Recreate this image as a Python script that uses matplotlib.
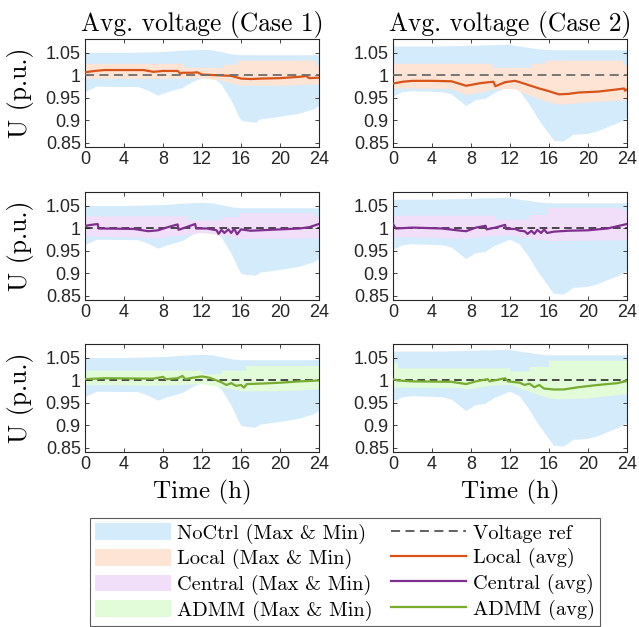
import matplotlib
matplotlib.use("Agg")
import matplotlib.pyplot as plt
from matplotlib.patches import Patch
from matplotlib.lines import Line2D

# ---------------- data ----------------
# NoCtrl band, Case 1
nc1_up_t = [0, 4, 8, 10, 12, 13, 14, 15, 16, 20, 24]
nc1_up = [1.050, 1.050, 1.052, 1.055, 1.057, 1.056, 1.052, 1.047, 1.045, 1.045, 1.045]
nc1_lo_t = [0, 0.5, 1.2, 5.5, 6.5, 7.5, 8.5, 10, 11, 12.5, 13, 14, 15, 16, 16.5, 17.5, 18, 20, 22, 23.5, 24]
nc1_lo = [0.962, 0.968, 0.975, 0.974, 0.966, 0.955, 0.963, 0.972, 0.985, 0.998, 0.997, 0.980, 0.945, 0.900,
          0.897, 0.895, 0.902, 0.908, 0.915, 0.925, 0.932]
# NoCtrl band, Case 2
nc2_up_t = [0, 4, 8, 12, 13, 15, 16, 24]
nc2_up = [1.064, 1.064, 1.066, 1.068, 1.064, 1.058, 1.056, 1.056]
nc2_lo_t = [0, 1, 2, 5, 6, 7.5, 8.5, 9.5, 10.5, 12, 13, 14, 15, 16, 16.5, 17.5, 18.5, 20, 21, 22, 23, 24]
nc2_lo = [0.952, 0.963, 0.965, 0.963, 0.958, 0.932, 0.945, 0.948, 0.962, 0.975, 0.965, 0.935, 0.900, 0.870,
          0.855, 0.853, 0.868, 0.870, 0.876, 0.885, 0.893, 0.905]

# Local band / average, Case 1
loc1_up_t = [0, 10.2, 10.2, 14.2, 14.2, 15.7, 15.7, 23.6, 23.6, 24]
loc1_up = [1.026, 1.026, 1.017, 1.017, 1.024, 1.024, 1.033, 1.033, 1.023, 1.023]
loc1_lo_t = [0, 7.5, 10, 12, 14, 16, 20, 24]
loc1_lo = [0.993, 0.992, 0.993, 0.994, 0.988, 0.977, 0.977, 0.980]
loc1_avg_t = [0, 1, 2, 4, 6, 7, 8, 9.5, 9.8, 10, 11, 11.5, 12, 13, 14, 15, 16, 17, 18, 20, 22, 22.5, 22.6, 23, 24]
loc1_avg = [1.007, 1.010, 1.012, 1.012, 1.012, 1.008, 1.010, 1.010, 1.004, 1.006, 1.006, 1.007, 1.002, 1.001,
            1.000, 0.999, 0.993, 0.992, 0.993, 0.994, 0.997, 0.998, 1.000, 0.994, 0.995]
# Local band / average, Case 2
loc2_up_t = [0, 10.2, 10.2, 14.2, 14.2, 15.7, 15.7, 23.6, 23.6, 24]
loc2_up = [1.026, 1.026, 1.017, 1.017, 1.026, 1.026, 1.033, 1.033, 1.023, 1.023]
loc2_lo_t = [0, 6, 7.5, 9, 10.5, 12.5, 14, 16, 17, 20, 24]
loc2_lo = [0.971, 0.970, 0.956, 0.962, 0.970, 0.970, 0.955, 0.940, 0.935, 0.940, 0.945]
loc2_avg_t = [0, 1, 2, 4, 6, 7.5, 9, 10.3, 10.5, 11.5, 12.5, 13, 14, 15, 16, 17, 18, 19, 21, 23, 23.7, 23.8, 24]
loc2_avg = [0.982, 0.986, 0.988, 0.988, 0.987, 0.977, 0.983, 0.986, 0.976, 0.985, 0.988, 0.985, 0.978, 0.971,
            0.965, 0.958, 0.959, 0.962, 0.964, 0.969, 0.971, 0.966, 0.969]

# Central band / average, Case 1
cen1_up_t = [0, 10.5, 10.5, 14, 14, 15.8, 15.8, 23.5, 23.5, 24]
cen1_up = [1.027, 1.027, 1.018, 1.018, 1.025, 1.025, 1.034, 1.034, 1.027, 1.027]
cen1_lo_t = [0, 7.5, 10, 12, 14, 16, 24]
cen1_lo = [0.983, 0.978, 0.985, 0.990, 0.985, 0.977, 0.978]
cen1_avg_t = [0, 0.3, 1.3, 1.4, 5, 6.5, 7.5, 8.5, 9.5, 9.6, 10, 11.3, 11.4, 12.5, 13.5, 13.7, 14, 14.3, 14.7,
              15, 15.3, 15.6, 16, 17, 18, 20, 22, 23, 24]
cen1_avg = [1.005, 1.007, 1.010, 1.000, 0.999, 0.994, 0.996, 1.003, 1.009, 0.997, 1.000, 1.010, 1.000, 1.000,
            0.996, 0.988, 0.997, 0.990, 0.998, 0.990, 1.000, 0.987, 0.998, 0.995, 0.996, 0.998, 1.000, 1.003, 1.010]
# Central band / average, Case 2
cen2_up_t = [0, 10.5, 10.5, 14, 14, 15.8, 15.8, 23.5, 23.5, 24]
cen2_up = [1.028, 1.028, 1.020, 1.020, 1.030, 1.030, 1.046, 1.046, 1.040, 1.040]
cen2_lo_t = [0, 7.5, 10, 12, 14, 16, 24]
cen2_lo = [0.981, 0.977, 0.983, 0.985, 0.978, 0.972, 0.974]
cen2_avg_t = [0, 0.3, 2, 5, 7, 7.5, 8.5, 9.5, 9.6, 10.5, 11.5, 11.6, 12.5, 13, 13.5, 13.8, 14.2, 14.5, 14.8,
              15.2, 15.5, 15.8, 16.5, 18, 20, 22, 24]
cen2_avg = [1.010, 1.000, 1.002, 1.000, 0.995, 0.994, 1.002, 1.006, 0.998, 1.002, 1.008, 0.999, 0.999, 0.995,
            0.994, 0.988, 0.995, 0.988, 0.997, 0.990, 0.998, 0.990, 0.993, 0.995, 0.996, 1.000, 1.010]

# ADMM band / average, Case 1
adm1_up_t = [0, 12, 12, 14, 14, 16.5, 16.5, 24]
adm1_up = [1.022, 1.022, 1.014, 1.014, 1.022, 1.022, 1.032, 1.032]
adm1_lo_t = [0, 7.5, 12, 14, 16, 20, 24]
adm1_lo = [0.990, 0.988, 0.992, 0.985, 0.976, 0.976, 0.980]
adm1_avg_t = [0, 1, 2, 7, 8, 8.3, 9.5, 10, 10.3, 11, 12, 12.8, 13.5, 14, 14.5, 15, 15.5, 16, 16.3, 16.6, 18, 20,
              22, 24]
adm1_avg = [1.003, 1.004, 1.005, 1.004, 1.008, 1.003, 1.005, 1.010, 1.003, 1.006, 1.009, 1.006, 1.000, 0.996,
            0.990, 0.994, 0.988, 0.990, 0.984, 0.992, 0.993, 0.995, 0.998, 1.000]
# ADMM band / average, Case 2
adm2_up_t = [0, 0.5, 0.5, 12, 12, 14, 14, 16, 16, 24]
adm2_up = [1.039, 1.039, 1.027, 1.027, 1.020, 1.020, 1.030, 1.030, 1.044, 1.044]
adm2_lo_t = [0, 7, 7.5, 10, 12, 14, 16, 17, 20, 24]
adm2_lo = [0.984, 0.983, 0.980, 0.988, 0.990, 0.975, 0.960, 0.958, 0.960, 0.970]
adm2_avg_t = [0, 0.5, 2, 6, 7.5, 8.5, 9.7, 9.9, 11.5, 11.8, 13, 13.5, 14, 14.5, 15, 15.5, 16.5, 17.5, 19, 21, 23,
              24]
adm2_avg = [1.003, 1.000, 0.998, 0.997, 0.992, 0.998, 1.003, 0.998, 1.005, 0.998, 0.995, 0.990, 0.993, 0.985,
            0.990, 0.982, 0.980, 0.980, 0.985, 0.990, 0.994, 0.999]

v_ref = 1.0
xticks = [0, 4, 8, 12, 16, 20, 24]
yticks = [0.85, 0.9, 0.95, 1.0, 1.05]
ytick_labels = ["0.85", "0.9", "0.95", "1", "1.05"]
titles = ["Avg. voltage (Case 1)", "Avg. voltage (Case 2)"]

# ---------------- style ----------------
C_NC = "#d4ebfb"
C_LOC_F = "#fde4d5"
C_CEN_F = "#f1dff9"
C_ADM_F = "#e2fbd8"
C_LOC = "#D95319"
C_CEN = "#7E2F8E"
C_ADM = "#77AC30"
SERIF = "cmr10"
SANS = "Liberation Sans"
AX_COL = "#262626"

fig = plt.figure(figsize=(6.39, 6.27), dpi=100)

lefts = [0.133, 0.615]
bottoms = [0.7656, 0.5215, 0.2791]
W, H = 0.3662, 0.1722

nc = [(nc1_up_t, nc1_up, nc1_lo_t, nc1_lo), (nc2_up_t, nc2_up, nc2_lo_t, nc2_lo)]
methods = [
    [(loc1_up_t, loc1_up, loc1_lo_t, loc1_lo, loc1_avg_t, loc1_avg),
     (loc2_up_t, loc2_up, loc2_lo_t, loc2_lo, loc2_avg_t, loc2_avg), C_LOC_F, C_LOC, "#6e6e6e"],
    [(cen1_up_t, cen1_up, cen1_lo_t, cen1_lo, cen1_avg_t, cen1_avg),
     (cen2_up_t, cen2_up, cen2_lo_t, cen2_lo, cen2_avg_t, cen2_avg), C_CEN_F, C_CEN, "#1a1a1a"],
    [(adm1_up_t, adm1_up, adm1_lo_t, adm1_lo, adm1_avg_t, adm1_avg),
     (adm2_up_t, adm2_up, adm2_lo_t, adm2_lo, adm2_avg_t, adm2_avg), C_ADM_F, C_ADM, "#1a1a1a"],
]


def band(ax, up_t, up, lo_t, lo, color):
    xs = list(up_t) + list(lo_t)[::-1]
    ys = list(up) + list(lo)[::-1]
    ax.fill(xs, ys, color=color, lw=0, zorder=1)


for r in range(3):
    case_data = methods[r]
    for c in range(2):
        ax = fig.add_axes([lefts[c], bottoms[r], W, H])
        band(ax, *nc[c], C_NC)
        d = case_data[c]
        band(ax, d[0], d[1], d[2], d[3], case_data[2])
        if r == 0:
            ax.plot(d[4], d[5], color=case_data[3], lw=1.6, zorder=3)
            ax.axhline(v_ref, color=case_data[4], lw=1.3, ls=(0, (5, 3)), zorder=4)
        else:
            ax.axhline(v_ref, color=case_data[4], lw=1.1, ls=(0, (5, 3)), zorder=2)
            ax.plot(d[4], d[5], color=case_data[3], lw=1.6, zorder=3)
        ax.set_xlim(0, 24)
        ax.set_ylim(0.841, 1.081)
        ax.set_xticks(xticks)
        ax.set_xticklabels([str(x) for x in xticks], fontfamily=SANS, fontsize=13, color=AX_COL)
        ax.set_yticks(yticks)
        ax.set_yticklabels(ytick_labels, fontfamily=SANS, fontsize=13, color=AX_COL)
        ax.tick_params(direction="in", top=True, right=True, length=3, width=0.6, colors=AX_COL, pad=3)
        for s in ax.spines.values():
            s.set_color(AX_COL)
            s.set_linewidth(0.8)
        if r == 0:
            ax.set_title(titles[c], fontfamily=SERIF, fontsize=18.3, pad=6)
        if c == 0:
            ax.set_ylabel("U (p.u.)", fontfamily=SERIF, fontsize=18.5)
            ax.yaxis.set_label_coords(-0.216, 0.5)
        if r == 2:
            ax.set_xlabel("Time (h)", fontfamily=SERIF, fontsize=18, labelpad=5)

handles = [
    Patch(facecolor=C_NC, edgecolor="none"),
    Patch(facecolor=C_LOC_F, edgecolor="none"),
    Patch(facecolor=C_CEN_F, edgecolor="none"),
    Patch(facecolor=C_ADM_F, edgecolor="none"),
    Line2D([], [], color="#555555", lw=1.3, ls=(0, (5, 3))),
    Line2D([], [], color=C_LOC, lw=1.6),
    Line2D([], [], color=C_CEN, lw=1.6),
    Line2D([], [], color=C_ADM, lw=1.6),
]
labels = ["NoCtrl (Max & Min)", "Local (Max & Min)", "Central (Max & Min)", "ADMM (Max & Min)",
          "Voltage ref", "Local (avg)", "Central (avg)", "ADMM (avg)"]
leg = fig.legend(handles, labels, ncol=2, loc="upper left", bbox_to_anchor=(0.1410, 0.1738),
                 prop={"family": SERIF, "size": 14.7}, frameon=True, fancybox=False,
                 edgecolor="#333333", handlelength=3.7, handleheight=0.9, handletextpad=0.3,
                 columnspacing=0.9, labelspacing=0.25, borderpad=0.25, borderaxespad=0)
leg.get_frame().set_linewidth(0.8)

fig.savefig("out.png", dpi=100)
